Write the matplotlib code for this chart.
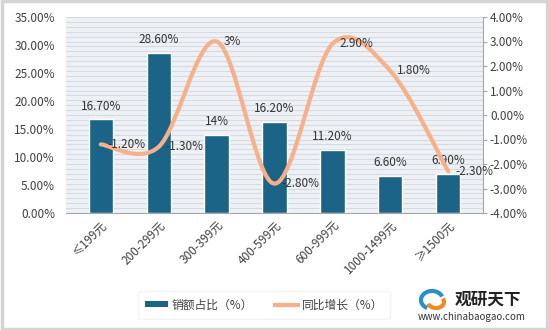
import numpy as np
import matplotlib.pyplot as plt
from matplotlib.path import Path
from matplotlib.patches import PathPatch, Rectangle, Patch, Arc
from matplotlib.lines import Line2D

plt.rcParams['font.family'] = ['Noto Sans CJK SC', 'DejaVu Sans']

categories = ['≤199元', '200-299元', '300-399元', '400-599元', '600-999元', '1000-1499元', '≥1500元']
share = [16.7, 28.6, 14.0, 16.2, 11.2, 6.6, 6.9]
share_labels = ['16.70%', '28.60%', '14%', '16.20%', '11.20%', '6.60%', '6.90%']
growth = [-1.2, -1.3, 3.0, -2.8, 2.9, 1.8, -2.3]
growth_labels = ['-1.20%', '-1.30%', '3%', '-2.80%', '2.90%', '1.80%', '-2.30%']

bar_color = '#1b6387'
line_color = '#f7b08a'

fig = plt.figure(figsize=(5.49, 3.30), dpi=100)
fig.patch.set_facecolor('white')
fig.patches.append(Rectangle((0.003, 0.004), 0.994, 0.992, transform=fig.transFigure,
                             fill=False, edgecolor='#d4d4d4', lw=2.5))

ax = fig.add_axes([66/549, 1 - 213/330, 417/549, 196/330])
ax2 = ax.twinx()

x = np.arange(len(categories))

# fond rayé
ax.set_facecolor('#eef2f6')
for yy in np.arange(0, 35.01, 0.875):
    ax.axhline(yy, color='#d5dbe1', lw=0.8, zorder=0)

ax.bar(x, share, width=0.42, color=bar_color, edgecolor='white', lw=1, zorder=3)
for xi, v, t in zip(x, share, share_labels):
    ax.annotate(t, (xi, v), xytext=(0, 5), textcoords='offset points',
                ha='center', va='bottom', fontsize=8.5, color='#333333')

ax.set_xlim(-0.6, 6.6)
ax.set_ylim(0, 35)
ax.set_yticks(np.arange(0, 35.01, 5))
ax.set_yticklabels(['%.2f%%' % v for v in np.arange(0, 35.01, 5)], fontsize=8.5, color='#404040')
ax.set_xticks(x)
ax.set_xticklabels(categories, rotation=45, ha='right', rotation_mode='anchor', fontsize=8.5, color='#404040')
ax.tick_params(axis='y', length=0, pad=8)
ax.tick_params(axis='x', length=0, pad=4)
for s in ['top', 'right', 'left']:
    ax.spines[s].set_visible(False)
ax.spines['bottom'].set_color('#a6a6a6')

# courbe lissée (bezier type Catmull-Rom passant par les points)
pts = np.column_stack([x, growth]).astype(float)
verts = [tuple(pts[0])]
codes = [Path.MOVETO]
n = len(pts)
for i in range(n - 1):
    p0 = pts[max(i - 1, 0)]
    p1 = pts[i]
    p2 = pts[i + 1]
    p3 = pts[min(i + 2, n - 1)]
    c1 = p1 + (p2 - p0) / 6
    c2 = p2 - (p3 - p1) / 6
    verts += [tuple(c1), tuple(c2), tuple(p2)]
    codes += [Path.CURVE4] * 3
ax2.add_patch(PathPatch(Path(verts, codes), fill=False, edgecolor=line_color, lw=3,
                        capstyle='round', zorder=4))
for xi, v, t in zip(x, growth, growth_labels):
    ax2.annotate(t, (xi, v), xytext=(5, 0), textcoords='offset points',
                 ha='left', va='center', fontsize=8.5, color='#333333', zorder=5)

ax2.set_ylim(-4, 4)
ax2.set_yticks(np.arange(-4, 4.01, 1))
ax2.set_yticklabels(['%.2f%%' % v for v in np.arange(-4, 4.01, 1)], fontsize=8.5, color='#404040')
ax2.tick_params(axis='y', length=3, color='#a6a6a6', pad=2)
for s in ['top', 'left', 'bottom']:
    ax2.spines[s].set_visible(False)
ax2.spines['right'].set_color('#a6a6a6')

handles = [Patch(facecolor=bar_color, label='销额占比（%）'),
           Line2D([0], [0], color=line_color, lw=3, label='同比增长（%）')]
leg = fig.legend(handles=handles, loc='center', bbox_to_anchor=(264/549, 1 - 305/330), ncol=2,
                 frameon=True, fontsize=8.5, handlelength=2.0, handleheight=0.45,
                 handletextpad=0.3, columnspacing=1.8, borderpad=0.6)
leg.get_frame().set_edgecolor('#f0f0f0')
leg.get_frame().set_facecolor('white')
for t in leg.get_texts():
    t.set_color('#404040')

# logo
fig.text(455/549, 1 - 300/330, '观研天下', fontsize=12, fontweight='bold', color='#222222', va='center')
fig.text(418/549, 1 - 317/330, 'www.chinabaogao.com', fontsize=7, color='#333333', va='center')
fig.patches.append(Arc((432/549, 1 - 300/330), 22/549, 18/330, theta1=30, theta2=250,
                       transform=fig.transFigure, color='#2a8fc6', lw=3))
fig.patches.append(Arc((436/549, 1 - 302/330), 16/549, 12/330, theta1=200, theta2=400,
                       transform=fig.transFigure, color='#f08a24', lw=3))

fig.savefig('out.png', dpi=100)
